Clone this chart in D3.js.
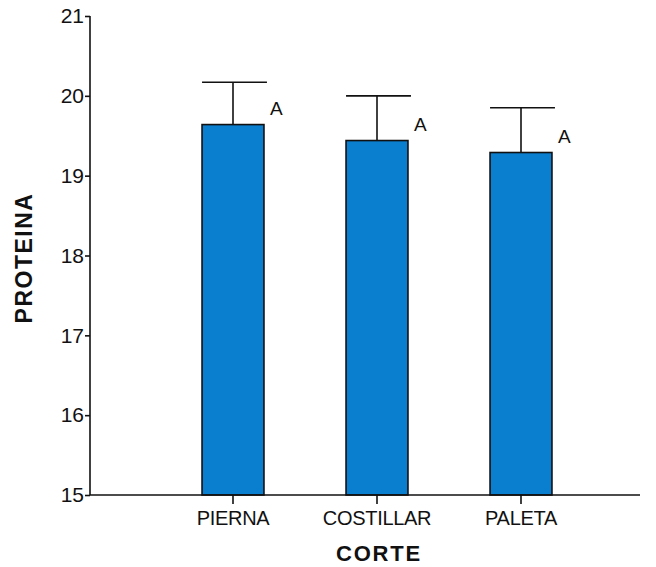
<!DOCTYPE html>
<html>
<head>
<meta charset="utf-8">
<script src="https://cdn.jsdelivr.net/npm/d3@7"></script>
<style>
  body { margin: 0; background: #fff; }
  svg { display: block; font-family: "Liberation Sans", Arial, sans-serif; }
</style>
</head>
<body>
<svg id="chart" width="656" height="567"></svg>
<script>
// Protein content by cut: means, upper error values and grouping letters
const categories = ["PIERNA", "COSTILLAR", "PALETA"];
const means = [19.64, 19.44, 19.29];
const upperErr = [20.17, 20.0, 19.85];
const groups = ["A", "A", "A"];
const yTicks = [15, 16, 17, 18, 19, 20, 21];

const svg = d3.select("#chart");

const y = d3.scaleLinear().domain([15, 21]).range([495, 16]);
const x = d3.scaleBand().domain(categories).range([161, 593]).paddingInner(0.57).paddingOuter(0.285);

const axisX0 = 90, axisX1 = 640;

// bars
svg.selectAll("rect.bar").data(categories).join("rect")
  .attr("class", "bar")
  .attr("x", d => x(d))
  .attr("width", x.bandwidth())
  .attr("y", (d, i) => y(means[i]))
  .attr("height", (d, i) => y(15) - y(means[i]))
  .attr("fill", "#0a7fd0")
  .attr("stroke", "#111")
  .attr("stroke-width", 1.6);

// error bars (upper only)
const eb = svg.selectAll("g.err").data(categories).join("g").attr("class", "err");
eb.append("line")
  .attr("x1", d => x(d) + x.bandwidth() / 2)
  .attr("x2", d => x(d) + x.bandwidth() / 2)
  .attr("y1", (d, i) => y(means[i]))
  .attr("y2", (d, i) => y(upperErr[i]))
  .attr("stroke", "#111").attr("stroke-width", 1.6);
eb.append("line")
  .attr("x1", d => x(d))
  .attr("x2", d => x(d) + x.bandwidth() + 3)
  .attr("y1", (d, i) => y(upperErr[i]))
  .attr("y2", (d, i) => y(upperErr[i]))
  .attr("stroke", "#111").attr("stroke-width", 1.6);

// group letters
svg.selectAll("text.grp").data(categories).join("text")
  .attr("class", "grp")
  .attr("x", d => x(d) + x.bandwidth() + 6)
  .attr("y", (d, i) => y(means[i]) - 10)
  .attr("font-size", 19)
  .attr("fill", "#111")
  .text((d, i) => groups[i]);

// y axis
const yAxis = svg.append("g")
  .attr("transform", `translate(${axisX0},0)`)
  .call(d3.axisLeft(y).tickValues(yTicks).tickSize(5).tickPadding(1).tickFormat(d3.format("d")));
yAxis.select(".domain").attr("stroke", "#111").attr("stroke-width", 1.6).attr("d", `M0,${y(21)}V${y(15)}`);
yAxis.selectAll(".tick line").attr("stroke", "#111").attr("stroke-width", 1.6);
yAxis.selectAll(".tick text").attr("font-size", 21).attr("fill", "#111")
  .attr("font-family", "Liberation Sans, Arial, sans-serif");

// x axis
const xAxis = svg.append("g")
  .attr("transform", `translate(0,${y(15)})`)
  .call(d3.axisBottom(x).tickSize(9).tickPadding(7));
xAxis.select(".domain").attr("stroke", "#111").attr("stroke-width", 1.6).attr("d", `M${axisX0},0H${axisX1}`);
xAxis.selectAll(".tick line").attr("stroke", "#111").attr("stroke-width", 1.6);
xAxis.selectAll(".tick text").attr("font-size", 20).attr("fill", "#111")
  .attr("letter-spacing", "-0.3px")
  .attr("font-family", "Liberation Sans, Arial, sans-serif");

// axis titles
svg.append("text")
  .attr("x", 379).attr("y", 561)
  .attr("text-anchor", "middle")
  .attr("font-size", 22).attr("font-weight", "bold")
  .attr("letter-spacing", "1.8px")
  .attr("fill", "#111")
  .text("CORTE");

svg.append("text")
  .attr("transform", "translate(32,258) rotate(-90)")
  .attr("text-anchor", "middle")
  .attr("font-size", 23).attr("font-weight", "bold")
  .attr("letter-spacing", "1.5px")
  .attr("fill", "#111")
  .text("PROTEINA");
</script>
</body>
</html>
